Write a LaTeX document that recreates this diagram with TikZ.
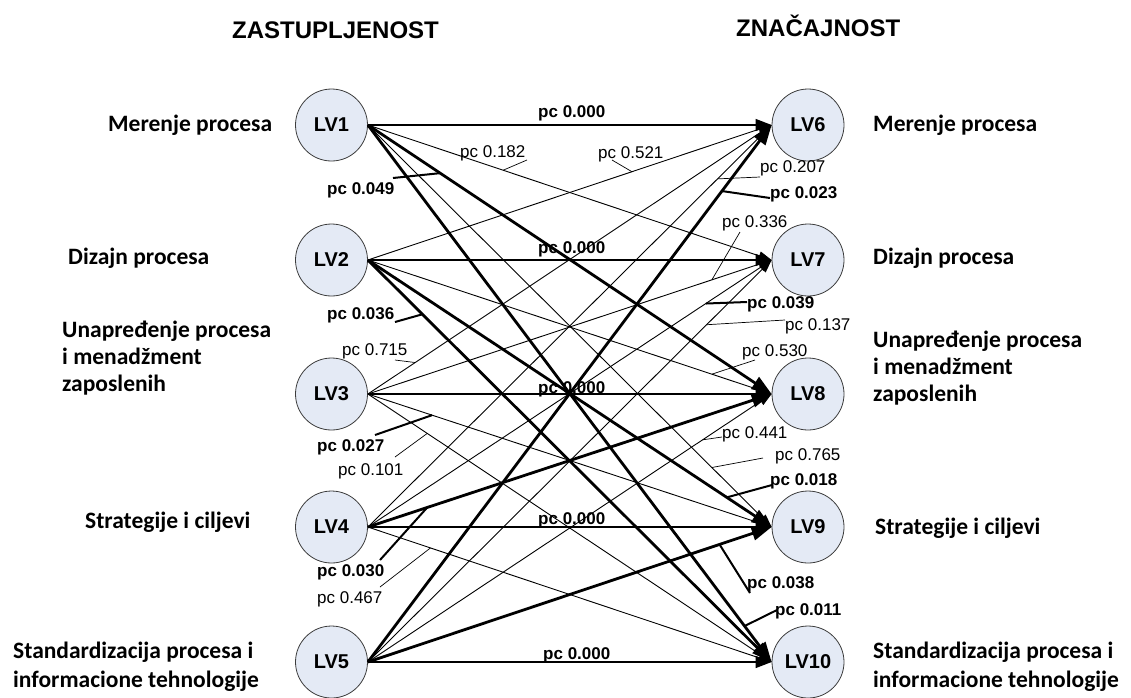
\documentclass[tikz,border=0pt]{standalone}
\usepackage{fontspec}
\setmainfont{Liberation Sans}
\newfontfamily\labelfont{Carlito}
\usetikzlibrary{arrows.meta}
\definecolor{lvfill}{RGB}{228,234,245}
\definecolor{lvedge}{RGB}{60,60,60}
\begin{document}
\begin{tikzpicture}[x=1pt,y=-1pt,
  lv/.style={circle,draw=lvedge,line width=0.8pt,fill=lvfill,minimum size=72pt,inner sep=0pt,
    font=\fontsize{20}{24}\selectfont\bfseries},
  link/.style={line width=0.9pt,-{Triangle[length=13pt,width=9pt]}},
  mainlink/.style={line width=1.3pt,-{Triangle[length=16pt,width=12pt]}},
  strong/.style={line width=2.8pt,-{Triangle[length=20pt,width=14pt]}},
  pcval/.style={anchor=base west,inner sep=0pt,font=\fontsize{17}{20}\selectfont},
  pcsig/.style={anchor=base west,inner sep=0pt,font=\fontsize{17}{20}\selectfont\bfseries},
  leader/.style={line width=0.7pt},
  sigleader/.style={line width=2pt},
  construct/.style={anchor=base west,inner sep=0pt,font=\labelfont\fontsize{23.5}{28}\selectfont\bfseries},
  heading/.style={anchor=base west,inner sep=0pt,font=\fontsize{24}{28}\selectfont\bfseries}]

\useasboundingbox (0,0) rectangle (1131,697);

% column headings
\node[heading] (hl) at (232,38) {ZASTUPLJENOST};
\node[heading] (hr) at (736,36) {ZNAČAJNOST};

% latent variables
\node[lv] (lv1) at (331.5,125) {LV1};
\node[lv] (lv2) at (331.5,260) {LV2};
\node[lv] (lv3) at (331.5,394) {LV3};
\node[lv] (lv4) at (331.5,527) {LV4};
\node[lv] (lv5) at (331.5,662) {LV5};
\node[lv] (lv6) at (808,125) {LV6};
\node[lv] (lv7) at (808,260) {LV7};
\node[lv] (lv8) at (808,394) {LV8};
\node[lv] (lv9) at (808,527) {LV9};
\node[lv] (lv10) at (808,662) {LV10};

% construct names, left column
\node[construct] (cl1) at (108,131) {Merenje procesa};
\node[construct] (cl2) at (68,264) {Dizajn procesa};
\node[construct] (cl3a) at (62,337) {Unapređenje procesa};
\node[construct] (cl3b) at (62,364) {i menadžment};
\node[construct] (cl3c) at (62,391) {zaposlenih};
\node[construct] (cl4) at (85,528) {Strategije i ciljevi};
\node[construct] (cl5a) at (13,658) {Standardizacija procesa i};
\node[construct] (cl5b) at (13,687) {informacione tehnologije};

% construct names, right column
\node[construct] (cr1) at (873,131) {Merenje procesa};
\node[construct] (cr2) at (873,264) {Dizajn procesa};
\node[construct] (cr3a) at (873,347) {Unapređenje procesa};
\node[construct] (cr3b) at (873,374) {i menadžment};
\node[construct] (cr3c) at (873,401) {zaposlenih};
\node[construct] (cr4) at (875,534) {Strategije i ciljevi};
\node[construct] (cr5a) at (873,658) {Standardizacija procesa i};
\node[construct] (cr5b) at (873,687) {informacione tehnologije};

% paths from LV1
\draw[mainlink] (lv1.east) -- (lv6.west);
\draw[link]   (lv1.east) -- (lv7.west)  coordinate[pos=.335] (e17);
\draw[strong] (lv1.east) -- (lv8.west)  coordinate[pos=.179] (e18);
\draw[link]   (lv1.east) -- (lv9.west)  coordinate[pos=.852] (e19);
\draw[strong] (lv1.east) -- (lv10.west) coordinate[pos=.933] (e110);
% paths from LV2
\draw[link]   (lv2.east) -- (lv6.west)  coordinate[pos=.654] (e26);
\draw[mainlink] (lv2.east) -- (lv7.west);
\draw[link]   (lv2.east) -- (lv8.west)  coordinate[pos=.852] (e28);
\draw[strong] (lv2.east) -- (lv9.west)  coordinate[pos=.889] (e29);
\draw[strong] (lv2.east) -- (lv10.west) coordinate[pos=.135] (e210);
% paths from LV3
\draw[link]   (lv3.east) -- (lv6.west)  coordinate[pos=.117] (e36);
\draw[link]   (lv3.east) -- (lv7.west)  coordinate[pos=.852] (e37);
\draw[mainlink] (lv3.east) -- (lv8.west);
\draw[link]   (lv3.east) -- (lv9.west)  coordinate[pos=.159] (e39);
\draw[link]   (lv3.east) -- (lv10.west) coordinate[pos=.147] (e310);
% paths from LV4
\draw[link]   (lv4.east) -- (lv6.west)  coordinate[pos=.866] (e46);
\draw[link]   (lv4.east) -- (lv7.west)  coordinate[pos=.837] (e47);
\draw[strong] (lv4.east) -- (lv8.west)  coordinate[pos=.147] (e48);
\draw[mainlink] (lv4.east) -- (lv9.west);
\draw[link]   (lv4.east) -- (lv10.west) coordinate[pos=.155] (e410);
% paths from LV5
\draw[strong] (lv5.east) -- (lv6.west)  coordinate[pos=.877] (e56);
\draw[link]   (lv5.east) -- (lv7.west)  coordinate[pos=.839] (e57);
\draw[link]   (lv5.east) -- (lv8.west)  coordinate[pos=.829] (e58);
\draw[strong] (lv5.east) -- (lv9.west)  coordinate[pos=.871] (e59);
\draw[mainlink] (lv5.east) -- (lv10.west);

% values on the direct paths
\node[pcsig] (p16) at (538,117) {pc 0.000};
\node[pcsig] (p27) at (538,253) {pc 0.000};
\node[pcsig] (p38) at (538,393) {pc 0.000};
\node[pcsig] (p49) at (538,524) {pc 0.000};
\node[pcsig] (p510) at (543,659) {pc 0.000};

% values on the cross paths, with their leaders
\node[pcval] (p17) at (460,157) {pc 0.182};
\coordinate (t17) at (527,160);
\draw[leader] (e17) -- (t17);

\node[pcval] (p26) at (598,158) {pc 0.521};
\coordinate (t26) at (612,160);
\draw[leader] (e26) -- (t26);

\node[pcsig] (p18) at (327,194) {pc 0.049};
\coordinate (t18) at (393,178);
\draw[sigleader] (e18) -- (t18);

\node[pcval] (p46) at (760,172) {pc 0.207};
\coordinate (t46) at (760,177);
\draw[leader] (e46) -- (t46);

\node[pcsig] (p56) at (770,198) {pc 0.023};
\coordinate (t56) at (770,198);
\draw[sigleader] (e56) -- (t56);

\node[pcval] (p37) at (722,227) {pc 0.336};
\coordinate (t37) at (740,232);
\draw[leader] (e37) -- (t37);

\node[pcsig] (p47) at (747,308) {pc 0.039};
\coordinate (t47) at (747,302);
\draw[sigleader] (e47) -- (t47);

\node[pcval] (p57) at (785,330) {pc 0.137};
\coordinate (t57) at (785,320);
\draw[leader] (e57) -- (t57);

\node[pcval] (p28) at (742,356) {pc 0.530};
\coordinate (t28) at (755,360);
\draw[leader] (e28) -- (t28);

\node[pcval] (p58) at (722,438) {pc 0.441};
\coordinate (t58) at (722,437);
\draw[leader] (e58) -- (t58);

\node[pcval] (p19) at (775,460) {pc 0.765};
\coordinate (t19) at (763,458);
\draw[leader] (e19) -- (t19);

\node[pcsig] (p29) at (770,485) {pc 0.018};
\coordinate (t29) at (772,485);
\draw[sigleader] (e29) -- (t29);

\node[pcsig] (p59) at (747,588) {pc 0.038};
\coordinate (t59) at (750,593);
\draw[sigleader] (e59) -- (t59);

\node[pcsig] (p110) at (775,615) {pc 0.011};
\coordinate (t110) at (777,610);
\draw[sigleader] (e110) -- (t110);

\node[pcsig] (p210) at (327,319) {pc 0.036};
\coordinate (t210) at (395,322);
\draw[sigleader] (e210) -- (t210);

\node[pcval] (p36) at (342,355) {pc 0.715};
\coordinate (t36) at (395,360);
\draw[leader] (e36) -- (t36);

\node[pcsig] (p39) at (317,451) {pc 0.027};
\coordinate (t39) at (375,435);
\draw[sigleader] (e39) -- (t39);

\node[pcval] (p310) at (338,475) {pc 0.101};
\coordinate (t310) at (395,457);
\draw[leader] (e310) -- (t310);

\node[pcsig] (p48) at (317,576) {pc 0.030};
\coordinate (t48) at (380,560);
\draw[sigleader] (e48) -- (t48);

\node[pcval] (p410) at (317,603) {pc 0.467};
\coordinate (t410) at (380,587);
\draw[leader] (e410) -- (t410);
\end{tikzpicture}
\end{document}
